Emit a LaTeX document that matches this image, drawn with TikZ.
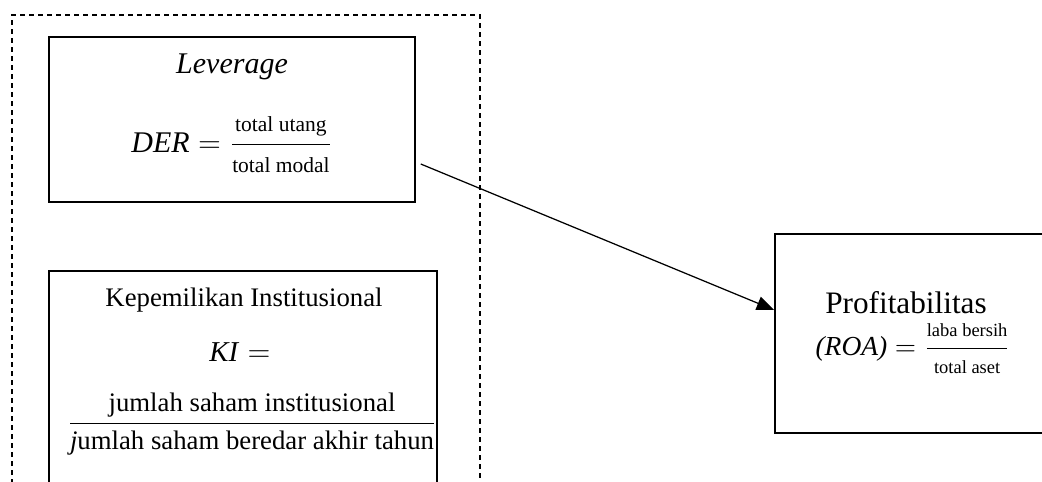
\documentclass[tikz,border=0pt]{standalone}
\usepackage{fontspec}
\setmainfont{Liberation Serif}
\usepackage{amsmath}
\usepackage{tikz}
\usetikzlibrary{arrows.meta,calc}

\begin{document}
\begin{tikzpicture}[x=0.4pt,y=-0.4pt,
  box/.style={draw, line width=0.6pt, inner sep=0pt},
  lbl/.style={inner sep=0pt, align=center},
  link/.style={line width=0.5pt, -{Triangle[length=7pt,width=5.6pt]}}]
\useasboundingbox (0,0) rectangle (1042,481);
\clip (0,0) rectangle (1042,481);
% dashed group round the two independent variables
\draw[line width=0.6pt, dash pattern=on 2pt off 1.6pt] (12,520) -- (12,15) -- (480,15) -- (480,520);
\node[box, minimum width=146.4pt, minimum height=66pt] (lev) at (232,119.5) {};
\node[lbl, font=\fontsize{12}{14}\selectfont\itshape] (levname) at (232,67) {Leverage};
\node[lbl, font=\fontsize{12}{14}\selectfont] (der) at (232,145)
  {$\text{\textit{DER}} = \dfrac{\text{\fontsize{8.6}{10}\selectfont total utang}}{\text{\fontsize{8.6}{10}\selectfont total modal}}$};
\node[box, minimum width=155.2pt, minimum height=91.6pt] (ki) at (243,385.5) {};
\node[lbl, font=\fontsize{10.7}{13}\selectfont] (kiname) at (244,300) {Kepemilikan Institusional};
\node[lbl, font=\fontsize{11.5}{13}\selectfont] (kieq) at (240,352) {$\text{\textit{KI}} =$};
\node[lbl, font=\fontsize{10.7}{13}\selectfont] (kifrac) at (252,424)
  {$\dfrac{\text{jumlah saham institusional}}{\text{\textit{j}umlah saham beredar akhir tahun}}$};
\node[box, minimum width=114pt, minimum height=79.6pt] (prof) at (917.5,333.5) {};
\node[lbl, font=\fontsize{12.5}{15}\selectfont] (profname) at (906,303) {Profitabilitas};
\node[lbl, font=\fontsize{11}{13}\selectfont] (roa) at (913,349)
  {$\text{\textit{(ROA)}} = \dfrac{\text{\fontsize{7.4}{9}\selectfont laba bersih}}{\text{\fontsize{7.4}{9}\selectfont total aset}}$};
\coordinate (levout) at ($(lev.east)+(5,44.5)$);
\coordinate (profin) at ($(prof.west)+(0,-23.5)$);
\draw[link] (levout) -- (profin);
\end{tikzpicture}
\end{document}
